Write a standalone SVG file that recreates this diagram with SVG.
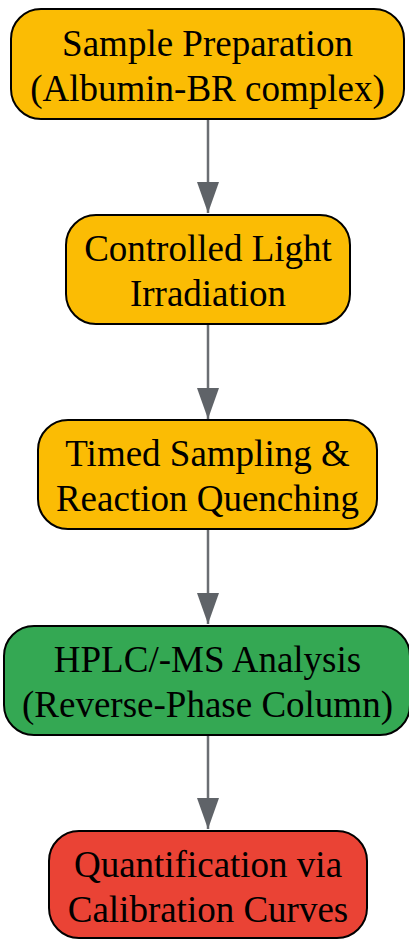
<svg xmlns="http://www.w3.org/2000/svg" width="409" height="940" viewBox="0 0 409 940">
<defs>
<style>
.n{stroke:#000;stroke-width:2}
.t{font-family:"Liberation Serif","Times New Roman",serif;font-size:37px;fill:#000;text-anchor:middle}
.e{stroke:#6b6e73;stroke-width:2.5;fill:none}
</style>
<marker id="ah" markerWidth="31" markerHeight="22" refX="31" refY="11" orient="auto" markerUnits="userSpaceOnUse" viewBox="0 0 31 22">
<path d="M0,0 L31,11 L0,22 Z" fill="#5f6368"/>
</marker>
</defs>
<rect width="409" height="940" fill="#fff"/>
<g id="connectors">
<line class="e" x1="208" y1="120" x2="208" y2="213" marker-end="url(#ah)"/>
<line class="e" x1="208" y1="325" x2="208" y2="419" marker-end="url(#ah)"/>
<line class="e" x1="208" y1="530" x2="208" y2="624" marker-end="url(#ah)"/>
<line class="e" x1="208" y1="736" x2="208" y2="829" marker-end="url(#ah)"/>
</g>
<g id="node1">
<rect class="n" x="11" y="9" width="393" height="110" rx="30" fill="#FBBC04"/>
<text class="t" x="207.5" y="56">Sample Preparation</text>
<text class="t" x="207.5" y="101">(Albumin-BR complex)</text>
</g>
<g id="node2">
<rect class="n" x="66" y="215" width="284" height="109" rx="30" fill="#FBBC04"/>
<text class="t" x="208" y="261">Controlled Light</text>
<text class="t" x="208" y="306">Irradiation</text>
</g>
<g id="node3">
<rect class="n" x="38" y="420" width="339" height="109" rx="30" fill="#FBBC04"/>
<text class="t" x="207.5" y="466">Timed Sampling &amp;</text>
<text class="t" x="207.5" y="511">Reaction Quenching</text>
</g>
<g id="node4">
<rect class="n" x="4" y="626" width="406" height="109" rx="30" fill="#34A853"/>
<text class="t" x="207.5" y="672">HPLC/-MS Analysis</text>
<text class="t" x="207.5" y="717">(Reverse-Phase Column)</text>
</g>
<g id="node5">
<rect class="n" x="49" y="831" width="318" height="107" rx="30" fill="#EA4335"/>
<text class="t" x="208" y="877">Quantification via</text>
<text class="t" x="208" y="922">Calibration Curves</text>
</g>
</svg>
